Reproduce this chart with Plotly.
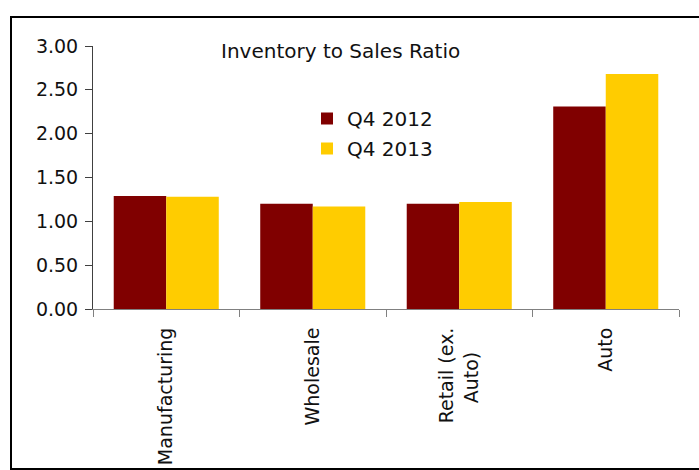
import plotly.graph_objects as go

# Inventory-to-sales ratios by sector
categories = ["Manufacturing", "Wholesale", "Retail (ex.<br>Auto)&nbsp;&nbsp;&nbsp;&nbsp;", "Auto"]
q4_2012 = [1.29, 1.20, 1.20, 2.31]
q4_2013 = [1.28, 1.17, 1.22, 2.68]
y_ticks = [0.0, 0.5, 1.0, 1.5, 2.0, 2.5, 3.0]

FONT = "DejaVu Sans"
W, H = 699, 470
L, R, T, B = 93, 20, 46, 161

fig = go.Figure()
fig.add_trace(go.Bar(x=categories, y=q4_2012, name="Q4 2012",
                     marker=dict(color="#800000", line=dict(width=0)),
                     legendgroup="a"))
fig.add_trace(go.Bar(x=categories, y=q4_2013, name="Q4 2013",
                     marker=dict(color="#FFCC00", line=dict(width=0)),
                     legendgroup="b"))

pw, ph = W - L - R, H - T - B


def px_x(x):
    return (x - L) / pw


def px_y(y):
    return (H - B - y) / ph


fig.update_layout(
    width=W, height=H,
    margin=dict(l=L, r=R, t=T, b=B, pad=0, autoexpand=False),
    paper_bgcolor="white", plot_bgcolor="white",
    font=dict(family=FONT, size=19, color="#111111"),
    barmode="group", bargap=0.283, bargroupgap=0,
    showlegend=True,
    legend=dict(x=px_x(307), y=px_y(99), xanchor="left", yanchor="top",
                bgcolor="rgba(0,0,0,0)", borderwidth=0,
                font=dict(family=FONT, size=20, color="#111111"),
                traceorder="grouped", tracegroupgap=1, itemwidth=30),
    xaxis=dict(showline=True, linecolor="#808080", linewidth=1,
               ticks="outside", ticklen=7, tickcolor="#808080",
               tickson="boundaries", tickangle=-90, ticklabelstandoff=10,
               showgrid=False, zeroline=False, automargin=False,
               tickfont=dict(family=FONT, size=19, color="#111111")),
    yaxis=dict(range=[0, 3], tickvals=y_ticks, tickformat=".2f",
               showline=True, linecolor="#404040", linewidth=1,
               ticks="outside", ticklen=7, tickcolor="#404040",
               ticklabelstandoff=3, automargin=False,
               showgrid=False, zeroline=False,
               tickfont=dict(family=FONT, size=19, color="#111111")),
    annotations=[dict(text="Inventory to Sales Ratio", xref="paper", yref="paper",
                      x=px_x(340), y=px_y(51), xanchor="center", yanchor="middle",
                      showarrow=False,
                      font=dict(family=FONT, size=20, color="#111111"))],
    shapes=[dict(type="rect", xref="paper", yref="paper",
                 x0=px_x(11), x1=px_x(712), y0=px_y(469), y1=px_y(17),
                 line=dict(color="black", width=2), fillcolor="rgba(0,0,0,0)",
                 layer="below")],
)

fig.write_html("out.html")
